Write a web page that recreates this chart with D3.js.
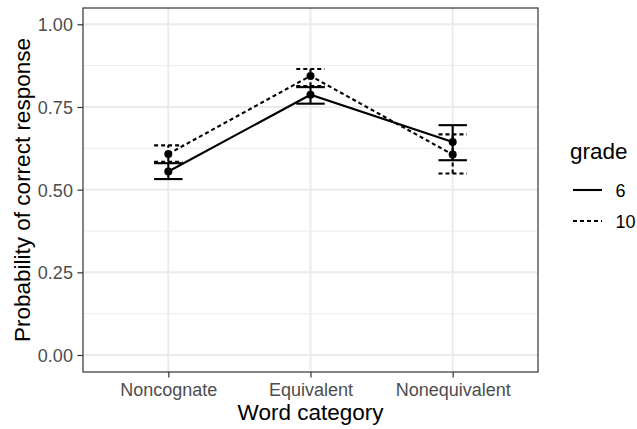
<!DOCTYPE html>
<html><head><meta charset="utf-8">
<script src="https://cdn.jsdelivr.net/npm/d3@7"></script>
<style>body{margin:0;background:#fff}svg{display:block}text{font-family:"Liberation Sans",Arial,sans-serif}</style>
</head><body><svg id="c" width="637" height="429"></svg>
<script>
const categories = ["Noncognate", "Equivalent", "Nonequivalent"];
const grades = ["6", "10"];
const mean6  = [0.555, 0.787, 0.644];
const lo6    = [0.532, 0.760, 0.589];
const hi6    = [0.580, 0.810, 0.695];
const mean10 = [0.608, 0.844, 0.606];
const lo10   = [0.584, 0.813, 0.549];
const hi10   = [0.634, 0.865, 0.667];
const yTicks = [0, 0.25, 0.5, 0.75, 1];
const yMinor = [0.125, 0.375, 0.625, 0.875];

const svg = d3.select("#c");
const L = 83, R = 538, T = 8, B = 372;
const y = d3.scaleLinear().domain([0, 1]).range([355, 24.3]);
const step = (R - L) / 3.2;
const x = d3.scalePoint().domain(categories).range([L + 0.6 * step, R - 0.6 * step]);

const series = [
  {g: grades[0], mean: mean6, lo: lo6, hi: hi6, dash: null},
  {g: grades[1], mean: mean10, lo: lo10, hi: hi10, dash: "4,3"}
];
const LW = 2.1;

// grid
const grid = svg.append("g");
yMinor.forEach(v => grid.append("line").attr("x1", L).attr("x2", R).attr("y1", y(v)).attr("y2", y(v)).attr("stroke", "#EBEBEB").attr("stroke-width", 1));
yTicks.forEach(v => grid.append("line").attr("x1", L).attr("x2", R).attr("y1", y(v)).attr("y2", y(v)).attr("stroke", "#EBEBEB").attr("stroke-width", 2));
categories.forEach(c => grid.append("line").attr("x1", x(c)).attr("x2", x(c)).attr("y1", T).attr("y2", B).attr("stroke", "#EBEBEB").attr("stroke-width", 2));

const capW = step * 0.1;
series.forEach(s => {
  const g = svg.append("g");
  const line = d3.line().x((d, i) => x(categories[i])).y(d => y(d));
  g.append("path").attr("d", line(s.mean)).attr("fill", "none").attr("stroke", "#000").attr("stroke-width", LW).attr("stroke-dasharray", s.dash);
  categories.forEach((c, i) => {
    const cx = x(c);
    g.append("line").attr("x1", cx).attr("x2", cx).attr("y1", y(s.lo[i])).attr("y2", y(s.hi[i])).attr("stroke", "#000").attr("stroke-width", LW).attr("stroke-dasharray", s.dash);
    [s.lo[i], s.hi[i]].forEach(v => g.append("line").attr("x1", cx - capW).attr("x2", cx + capW).attr("y1", y(v)).attr("y2", y(v)).attr("stroke", "#000").attr("stroke-width", LW).attr("stroke-dasharray", s.dash));
    g.append("circle").attr("cx", cx).attr("cy", y(s.mean[i])).attr("r", 4).attr("fill", "#000");
  });
});

// border
svg.append("rect").attr("x", L).attr("y", T).attr("width", R - L).attr("height", B - T).attr("fill", "none").attr("stroke", "#333").attr("stroke-width", 1.2);

// axes
const yAxis = d3.axisLeft(y).tickValues(yTicks).tickFormat(d3.format(".2f")).tickSize(5.6).tickPadding(4.5);
const ya = svg.append("g").attr("transform", `translate(${L},0)`).call(yAxis);
const xAxis = d3.axisBottom(x).tickSize(5.6).tickPadding(4.5);
const xa = svg.append("g").attr("transform", `translate(0,${B})`).call(xAxis);
[ya, xa].forEach(a => {
  a.select(".domain").remove();
  a.selectAll(".tick line").attr("stroke", "#333").attr("stroke-width", 1.2);
  a.selectAll(".tick text").attr("fill", "#4D4D4D").attr("font-size", 18).style("font-family", "Liberation Sans, Arial, sans-serif");
});
ya.selectAll(".tick text").attr("dy", "0.36em");
xa.selectAll(".tick text").attr("dy", "0.76em");

svg.append("text").attr("x", (L + R) / 2).attr("y", 420).attr("text-anchor", "middle").attr("font-size", 22.5).attr("fill", "#000").text("Word category");
svg.append("text").attr("transform", `translate(30,${(T + B) / 2}) rotate(-90)`).attr("text-anchor", "middle").attr("font-size", 22.5).attr("fill", "#000").text("Probability of correct response");

// legend
const lg = svg.append("g");
lg.append("text").attr("x", 570).attr("y", 159).attr("font-size", 22.5).text("grade");
series.forEach((s, i) => {
  const yy = 190 + i * 31;
  lg.append("line").attr("x1", 573).attr("x2", 602).attr("y1", yy).attr("y2", yy).attr("stroke", "#000").attr("stroke-width", LW).attr("stroke-dasharray", s.dash ? "4,3" : null);
  lg.append("text").attr("x", 615.5).attr("y", yy + 6.5).attr("font-size", 18).text(s.g);
});
</script></body></html>
